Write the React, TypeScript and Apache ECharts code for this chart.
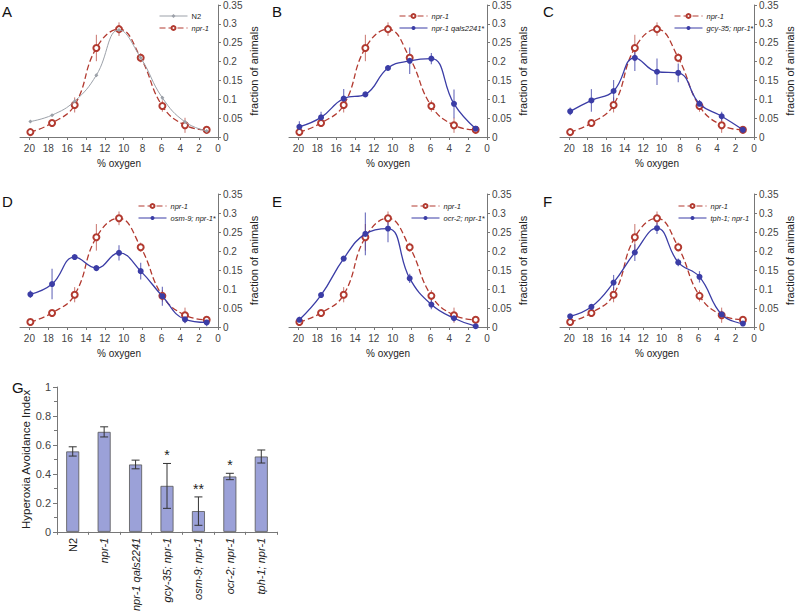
import React, { useEffect, useRef } from "react";
import * as echarts from "echarts";

// ---- data ----
const oxygen = [19.9, 17.6, 15.2, 12.9, 10.5, 8.2, 5.9, 3.5, 1.2];
const xTicks = [0, 2, 4, 6, 8, 10, 12, 14, 16, 18, 20];

const npr1 = [0.013, 0.037, 0.085, 0.236, 0.286, 0.21, 0.082, 0.031, 0.019];
const npr1Err = [0.003, 0.005, 0.02, 0.035, 0.018, 0.012, 0.015, 0.02, 0.005];

const n2 = [0.041, 0.058, 0.095, 0.164, 0.284, 0.21, 0.104, 0.04, 0.016];
const n2Err = [0.003, 0.003, 0.005, 0.004, 0.01, 0.008, 0.005, 0.004, 0.003];

const qals2241 = [0.027, 0.052, 0.102, 0.113, 0.183, 0.202, 0.208, 0.088, 0.022];
const qals2241Err = [0.015, 0.015, 0.025, 0.005, 0.008, 0.035, 0.015, 0.038, 0.005];

const gcy35 = [0.068, 0.097, 0.122, 0.21, 0.173, 0.17, 0.088, 0.055, 0.019];
const gcy35Err = [0.01, 0.03, 0.029, 0.035, 0.035, 0.025, 0.01, 0.012, 0.005];

const osm9 = [0.086, 0.113, 0.184, 0.155, 0.195, 0.147, 0.081, 0.02, 0.012];
const osm9Err = [0.01, 0.04, 0.005, 0.005, 0.02, 0.022, 0.025, 0.01, 0.01];

const ocr2 = [0.019, 0.084, 0.18, 0.245, 0.259, 0.128, 0.059, 0.023, 0.002];
const ocr2Err = [0.008, 0.008, 0.006, 0.056, 0.036, 0.012, 0.012, 0.008, 0.003];

const tph1 = [0.028, 0.053, 0.117, 0.196, 0.26, 0.17, 0.132, 0.033, 0.009];
const tph1Err = [0.005, 0.004, 0.02, 0.022, 0.015, 0.01, 0.015, 0.01, 0.005];

const strains = [
  "N2",
  "npr-1",
  "npr-1 qals2241",
  "gcy-35; npr-1",
  "osm-9; npr-1",
  "ocr-2; npr-1",
  "tph-1; npr-1",
];
const avoidance = [0.555, 0.69, 0.465, 0.317, 0.143, 0.382, 0.52];
const avoidanceErr = [0.032, 0.035, 0.03, 0.155, 0.098, 0.022, 0.045];
const significance = ["", "", "", "*", "**", "*", ""];

// ---- styling ----
const RED = "#b23a30";
const BLUE = "#3b3da6";
const GRAY = "#9ca1a9";
const AXIS = "#777";
const FONT = "Liberation Sans, Arial, sans-serif";

type Panel = {
  letter: string;
  name: string;
  values: number[];
  err: number[];
  isN2?: boolean;
};

const panels: Panel[] = [
  { letter: "A", name: "N2", values: n2, err: n2Err, isN2: true },
  { letter: "B", name: "npr-1 qals2241*", values: qals2241, err: qals2241Err },
  { letter: "C", name: "gcy-35; npr-1*", values: gcy35, err: gcy35Err },
  { letter: "D", name: "osm-9; npr-1*", values: osm9, err: osm9Err },
  { letter: "E", name: "ocr-2; npr-1*", values: ocr2, err: ocr2Err },
  { letter: "F", name: "tph-1; npr-1", values: tph1, err: tph1Err },
];

const colLefts = [20, 289, 560];
const rowTops = [4, 194];
const legendLefts = [154, 394, 669, 133, 406, 673];
const letterLefts = [2, 272, 543];

function legendFormatter(name: string) {
  if (name === "N2") return "{n|N2}";
  if (name.endsWith("*")) return "{i|" + name.slice(0, -1) + "}{n|*}";
  return "{i|" + name + "}";
}

function errRender(color: string, width: number) {
  return (params: any, api: any) => {
    const x = api.value(0);
    const y = api.value(1);
    const e = api.value(2);
    const p1 = api.coord([x, y - e]);
    const p2 = api.coord([x, y + e]);
    return {
      type: "line",
      shape: { x1: p1[0], y1: p1[1], x2: p2[0], y2: p2[1] },
      style: { stroke: color, lineWidth: width, opacity: 0.7 },
    };
  };
}

function buildOption() {
  const grid: any[] = [];
  const xAxis: any[] = [];
  const yAxis: any[] = [];
  const series: any[] = [];
  const legend: any[] = [];
  const graphic: any[] = [];

  panels.forEach((p, i) => {
    const col = i % 3;
    const row = Math.floor(i / 3);
    grid.push({ left: colLefts[col], top: rowTops[row], width: 198, height: 133 });
    xAxis.push({
      gridIndex: i,
      type: "value",
      min: 0,
      max: 21,
      inverse: true,
      interval: 2,
      axisLine: { show: true, onZero: false, lineStyle: { color: AXIS, width: 1 } },
      axisTick: { show: true, length: 3, customValues: xTicks, lineStyle: { color: AXIS } },
      axisLabel: { customValues: xTicks, fontSize: 10, color: "#444", margin: 6, fontFamily: FONT },
      splitLine: { show: false },
      name: "% oxygen",
      nameLocation: "middle",
      nameGap: 21,
      nameTextStyle: { fontSize: 10, color: "#222", fontFamily: FONT },
    });
    yAxis.push({
      gridIndex: i,
      type: "value",
      position: "right",
      min: 0,
      max: 0.35,
      interval: 0.05,
      axisLine: { show: true, lineStyle: { color: AXIS, width: 1 } },
      axisTick: { show: true, length: 3, lineStyle: { color: AXIS } },
      axisLabel: { fontSize: 10, color: "#444", margin: 5, fontFamily: FONT },
      splitLine: { show: false },
      name: "fraction of animals",
      nameLocation: "middle",
      nameGap: 30,
      nameRotate: 90,
      nameTextStyle: { fontSize: 11, color: "#222", fontFamily: FONT },
    });

    const mutantColor = p.isN2 ? GRAY : BLUE;

    // error bars
    series.push({
      type: "custom",
      xAxisIndex: i,
      yAxisIndex: i,
      renderItem: errRender(RED, 1),
      data: oxygen.map((x, k) => [x, npr1[k], npr1Err[k]]),
      z: 1,
      silent: true,
    });
    series.push({
      type: "custom",
      xAxisIndex: i,
      yAxisIndex: i,
      renderItem: errRender(mutantColor, 1.2),
      data: oxygen.map((x, k) => [x, p.values[k], p.err[k]]),
      z: 1,
      silent: true,
    });

    const redLine = {
      type: "line",
      name: "npr-1",
      xAxisIndex: i,
      yAxisIndex: i,
      data: oxygen.map((x, k) => [x, npr1[k]]),
      smooth: 0.45,
      symbol: "emptyCircle",
      symbolSize: 6,
      lineStyle: { color: RED, width: 1.3, type: [6, 3] },
      itemStyle: { color: RED, borderColor: RED, borderWidth: 1.4 },
      z: 3,
    };
    const mutLine = {
      type: "line",
      name: p.name,
      xAxisIndex: i,
      yAxisIndex: i,
      data: oxygen.map((x, k) => [x, p.values[k]]),
      smooth: 0.45,
      symbol: p.isN2 ? "diamond" : "circle",
      symbolSize: p.isN2 ? 4 : 6,
      lineStyle: { color: mutantColor, width: p.isN2 ? 1 : 1.3 },
      itemStyle: { color: mutantColor },
      z: 4,
    };
    if (p.isN2) {
      series.push(mutLine, redLine);
    } else {
      series.push(redLine, mutLine);
    }

    legend.push({
      data: p.isN2 ? ["N2", "npr-1"] : ["npr-1", p.name],
      orient: "vertical",
      left: legendLefts[i],
      top: rowTops[row] + 3,
      itemWidth: 28,
      itemHeight: 5,
      itemGap: 4,
      selectedMode: false,
      formatter: legendFormatter,
      itemStyle: { borderWidth: 1 },
      lineStyle: { width: 1 },
      textStyle: {
        fontSize: 7.5,
        color: "#222",
        fontFamily: FONT,
        padding: [0, 0, 0, -1],
        rich: {
          i: { fontStyle: "italic", fontSize: 7.5, fontFamily: FONT, color: "#222" },
          n: { fontSize: 7.5, fontFamily: FONT, color: "#222" },
        },
      },
    });

    graphic.push({
      type: "text",
      left: letterLefts[col],
      top: row === 0 ? 4 : 194,
      style: { text: p.letter, fontSize: 15, fill: "#111", fontFamily: FONT },
    });
  });

  // ---- panel G ----
  const gi = 6;
  grid.push({ left: 57, top: 387, width: 220, height: 153 });
  xAxis.push({
    gridIndex: gi,
    type: "category",
    data: strains,
    axisLine: { show: true, lineStyle: { color: AXIS } },
    axisTick: { show: true, length: 3, lineStyle: { color: AXIS } },
    axisLabel: {
      rotate: 90,
      margin: 6,
      interval: 0,
      fontFamily: FONT,
      formatter: (v: string) => (v === "N2" ? "{n|N2}" : "{i|" + v + "}"),
      rich: {
        i: { fontStyle: "italic", fontSize: 11, color: "#222", fontFamily: FONT },
        n: { fontSize: 11, color: "#222", fontFamily: FONT },
      },
    },
  });
  yAxis.push({
    gridIndex: gi,
    type: "value",
    min: 0,
    max: 1,
    interval: 0.2,
    axisLine: { show: true, lineStyle: { color: AXIS } },
    axisTick: { show: true, length: 4, lineStyle: { color: AXIS } },
    minorTick: { show: true, splitNumber: 2, length: 3, lineStyle: { color: AXIS } },
    axisLabel: { fontSize: 11, color: "#444", margin: 6, fontFamily: FONT },
    splitLine: { show: false },
    name: "Hyperoxia Avoidance Index",
    nameLocation: "middle",
    nameGap: 24,
    nameRotate: 90,
    nameTextStyle: { fontSize: 11.5, color: "#222", fontFamily: FONT },
  });
  series.push({
    type: "bar",
    xAxisIndex: gi,
    yAxisIndex: gi,
    data: avoidance,
    barWidth: 13,
    itemStyle: { color: "#9ba1d8", borderColor: "#555", borderWidth: 0.8 },
    z: 2,
  });
  series.push({
    type: "custom",
    xAxisIndex: gi,
    yAxisIndex: gi,
    data: avoidance.map((v, k) => [k, v, avoidanceErr[k]]),
    z: 5,
    silent: true,
    renderItem: (params: any, api: any) => {
      const idx = params.dataIndex;
      const x = api.value(0);
      const y = api.value(1);
      const e = api.value(2);
      const top = api.coord([x, y + e]);
      const bot = api.coord([x, y - e]);
      const cw = 4;
      const children: any[] = [
        { type: "line", shape: { x1: top[0], y1: top[1], x2: bot[0], y2: bot[1] }, style: { stroke: "#333", lineWidth: 1 } },
        { type: "line", shape: { x1: top[0] - cw, y1: top[1], x2: top[0] + cw, y2: top[1] }, style: { stroke: "#333", lineWidth: 1 } },
        { type: "line", shape: { x1: bot[0] - cw, y1: bot[1], x2: bot[0] + cw, y2: bot[1] }, style: { stroke: "#333", lineWidth: 1 } },
      ];
      const star = significance[idx];
      if (star) {
        children.push({
          type: "text",
          x: top[0],
          y: top[1] - 1,
          style: {
            text: star,
            align: "center",
            verticalAlign: "bottom",
            fontSize: 14,
            fill: "#222",
            fontFamily: FONT,
          },
        });
      }
      return { type: "group", children };
    },
  });
  graphic.push({
    type: "text",
    left: 12,
    top: 380,
    style: { text: "G", fontSize: 15, fill: "#111", fontFamily: FONT },
  });

  return {
    animation: false,
    backgroundColor: "#fff",
    textStyle: { fontFamily: FONT },
    grid,
    xAxis,
    yAxis,
    series,
    legend,
    graphic,
  };
}

export default function App() {
  const ref = useRef<HTMLDivElement>(null);
  useEffect(() => {
    if (!ref.current) return;
    const chart = echarts.init(ref.current, undefined, { renderer: "svg" });
    chart.setOption(buildOption() as any);
    return () => chart.dispose();
  }, []);
  return (
    <div
      ref={ref}
      style={{ position: "fixed", left: 0, top: 0, width: 796, height: 614, background: "#fff" }}
    />
  );
}
